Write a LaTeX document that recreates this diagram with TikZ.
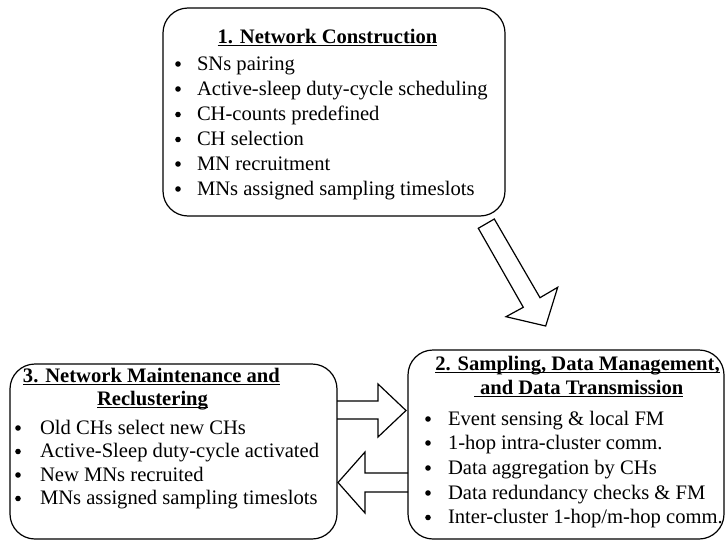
\documentclass[tikz,border=0pt]{standalone}
\usepackage{fontspec}
\setmainfont{Liberation Serif}
\begin{document}
\begin{tikzpicture}[x=1pt,y=-1pt,
  box/.style={draw, line width=1.2pt, rounded corners=25pt, inner sep=0pt, outer sep=0pt},
  txt/.style={anchor=base west, inner sep=0pt, outer sep=0pt, font=\fontsize{20.6}{24}\selectfont},
  dot/.style={circle, fill, draw=none, inner sep=0pt, outer sep=0pt, minimum size=5.6pt},
  ttl/.style={inner sep=0pt, outer sep=0pt, font=\fontsize{20.6}{24}\selectfont\bfseries},
  uline/.style={line width=1.1pt},
  blk/.style={draw, line width=1.2pt, line join=miter}]
\useasboundingbox (0,0) rectangle (726,541);

% boxes
\node[box, minimum width=342pt, minimum height=208pt] (b1) at (334,112) {};
\node[box, minimum width=316pt, minimum height=189pt] (b2) at (566,444.5) {};
\node[box, minimum width=327pt, minimum height=175pt] (b3) at (173.5,451.5) {};

% box 1
\node[ttl, anchor=base] (t1) at (327.5,43) {1. Network Construction};
\draw[uline] ([yshift=-2.5pt]t1.base west) -- ([yshift=-2.5pt]t1.base east);
\node[dot] (b1d1) at (178,64) {};    \node[txt] (b1i1) at (197,70) {SNs pairing};
\node[dot] (b1d2) at (178,89) {};    \node[txt] (b1i2) at (197,95) {Active-sleep duty-cycle scheduling};
\node[dot] (b1d3) at (178,114.5) {}; \node[txt] (b1i3) at (197,120.5) {CH-counts predefined};
\node[dot] (b1d4) at (178,139.5) {}; \node[txt] (b1i4) at (197,145.5) {CH selection};
\node[dot] (b1d5) at (178,164) {};   \node[txt] (b1i5) at (197,170) {MN recruitment};
\node[dot] (b1d6) at (178,189) {};   \node[txt] (b1i6) at (197,195) {MNs assigned sampling timeslots};

% box 2
\node[ttl, anchor=base] (t2a) at (577.5,370) {2. Sampling, Data Management,};
\draw[uline] ([yshift=-2.5pt]t2a.base west) -- ([yshift=-2.5pt]t2a.base east);
\node[ttl, anchor=base west] (t2b) at (480,394) {and Data Transmission};
\draw[uline] ([xshift=-6pt,yshift=-2.5pt]t2b.base west) -- ([yshift=-2.5pt]t2b.base east);
\node[dot] (b2d1) at (428,419) {};   \node[txt] (b2i1) at (448,425) {Event sensing \& local FM};
\node[dot] (b2d2) at (428,443) {};   \node[txt] (b2i2) at (448,449) {1-hop intra-cluster comm.};
\node[dot] (b2d3) at (428,468) {};   \node[txt] (b2i3) at (448,474) {Data aggregation by CHs};
\node[dot] (b2d4) at (428,493) {};   \node[txt] (b2i4) at (448,499) {Data redundancy checks \& FM};
\node[dot] (b2d5) at (428,517.5) {}; \node[txt] (b2i5) at (448,523.5) {Inter-cluster 1-hop/m-hop comm.};

% box 3
\node[ttl, anchor=base west] (t3a) at (23,382) {3. Network Maintenance and};
\draw[uline] ([yshift=-2.5pt]t3a.base west) -- ([yshift=-2.5pt]t3a.base east);
\node[ttl, anchor=base west] (t3b) at (97,405) {Reclustering};
\draw[uline] ([yshift=-2.5pt]t3b.base west) -- ([yshift=-2.5pt]t3b.base east);
\node[dot] (b3d1) at (18,428) {};    \node[txt] (b3i1) at (40,434) {Old CHs select new CHs};
\node[dot] (b3d2) at (18,451.5) {};  \node[txt] (b3i2) at (40,457.5) {Active-Sleep duty-cycle activated};
\node[dot] (b3d3) at (18,475) {};    \node[txt] (b3i3) at (40,481) {New MNs recruited};
\node[dot] (b3d4) at (18,498.5) {};  \node[txt] (b3i4) at (40,504.5) {MNs assigned sampling timeslots};

% block arrows
\draw[blk] (478.3,228.3) -- (494.3,219) -- (540,297.7) -- (557.7,287.3) -- (545.7,326) -- (506,316.7) -- (523.3,307.3) -- cycle;
\draw[blk] (337,401) -- (378,401) -- (378,384) -- (406,410.5) -- (378,437) -- (378,419) -- (337,419);
\draw[blk] (408,473) -- (365,473) -- (365,452) -- (338,482.5) -- (365,513) -- (365,492) -- (408,492);
\end{tikzpicture}
\end{document}
